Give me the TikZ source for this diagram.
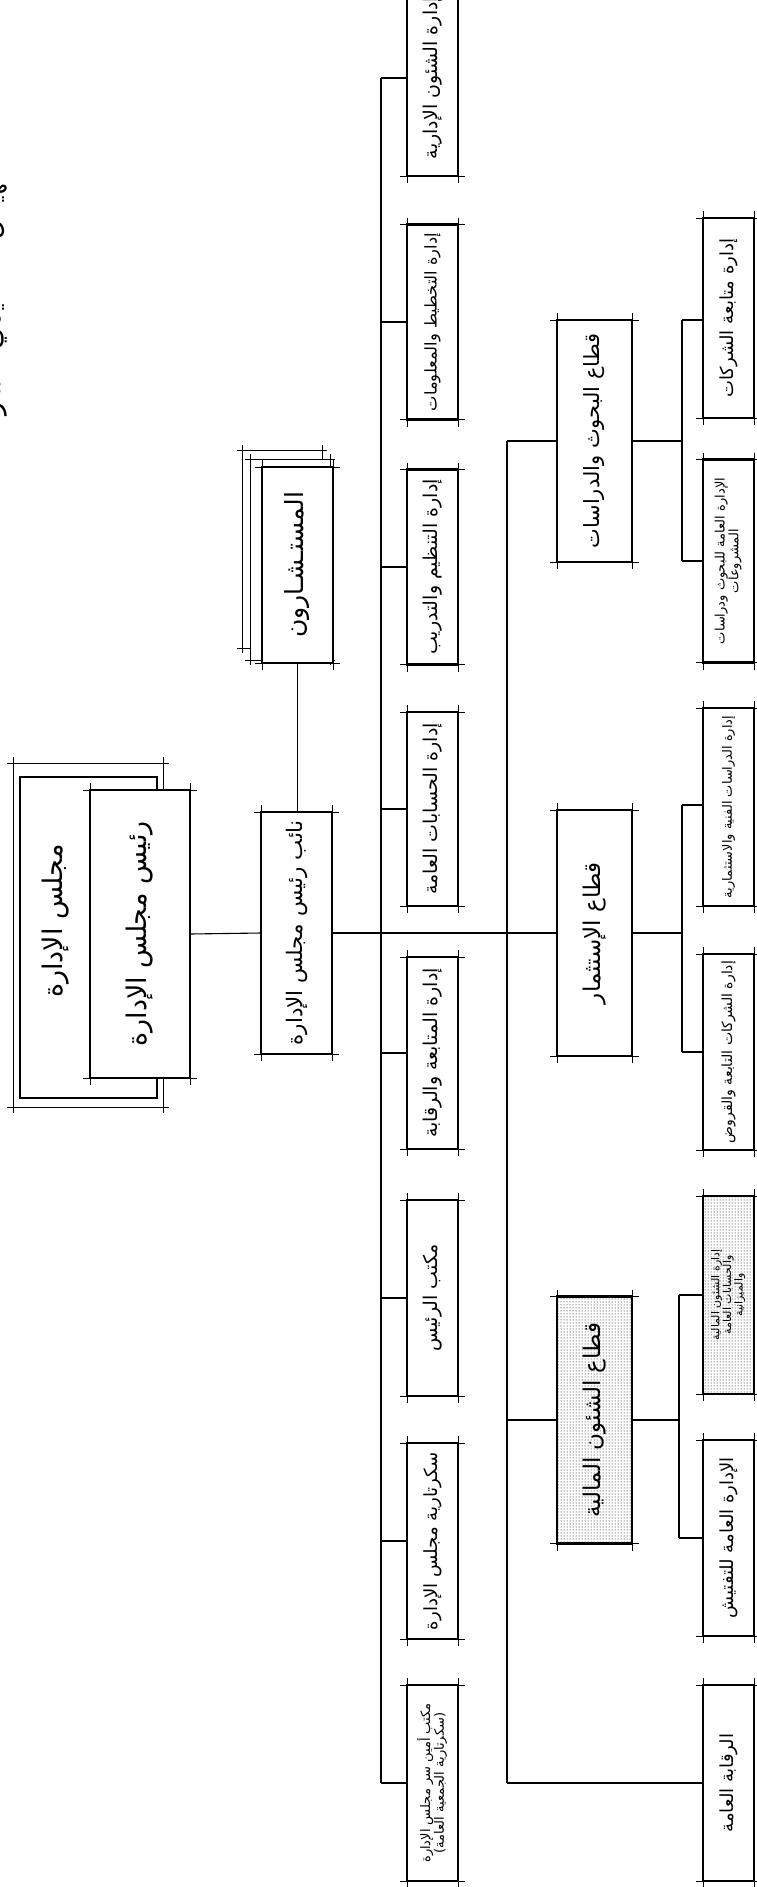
\documentclass[tikz,border=0pt]{standalone}
\usepackage{graphicx}
\usepackage{fontspec}
\usetikzlibrary{patterns}
\newfontfamily\ar[Script=Arabic]{DejaVu Sans}
\TeXXeTstate=1
\newsavebox\tbox
\newcommand\fitbox[1]{\ifdim\wd\tbox>#1\relax\resizebox{#1}{!}{\usebox\tbox}\else\usebox\tbox\fi}
\newcommand\lbl[3]{\sbox\tbox{\fontsize{#2}{#2}\selectfont\ar #3}\fitbox{#1}}
\newcommand\lbltwo[4]{\sbox\tbox{\fontsize{#2}{#2}\selectfont\ar\begin{tabular}{@{}c@{}}#3\\#4\end{tabular}}\fitbox{#1}}
\newcommand\lblthree[5]{\sbox\tbox{\fontsize{#2}{#2}\selectfont\ar\begin{tabular}{@{}c@{}}#3\\#4\\#5\end{tabular}}\fitbox{#1}}
% box: [style]{name}{cx}{cy}{w}{h}{content}
\newcommand\BX[7][]{\node[bx,#1,minimum width=#5pt,minimum height=#6pt] (#2) at (#3,#4) {\rotatebox{90}{#7}};}
\newcommand\tk[2][7pt]{\draw[tickl] ([xshift=-#1]#2.north west) -- ([xshift=#1]#2.north east)
  ([xshift=-#1]#2.south west) -- ([xshift=#1]#2.south east)
  ([yshift=#1]#2.north west) -- ([yshift=-#1]#2.south west)
  ([yshift=#1]#2.north east) -- ([yshift=-#1]#2.south east);}
\begin{document}
\begin{tikzpicture}[x=1pt,y=-1pt,
  bx/.style={draw,line width=2.6pt,fill=white,inner sep=0pt,outer sep=0pt},
  shd/.style={pattern=dots,pattern color=black},
  conn/.style={line width=1.1pt},
  tickl/.style={line width=0.8pt},
  thinfr/.style={draw,line width=1pt,fill=white,inner sep=0pt,outer sep=0pt}]
\useasboundingbox (0,0) rectangle (757,1887);
\fill[white] (0,0) rectangle (757,1887);
% title (cut by the page edge)
\begin{scope}
\clip (0,0) rectangle (757,1887);
\node[anchor=south,inner sep=0pt,rotate=90] (title) at (7,305) {\lbl{276pt}{34}{\beginR الهيكل التنظيمي للشركة\endR}};
\end{scope}
% bus coordinates
\coordinate (b1t) at (381,78);
\coordinate (b1b) at (381,1783);
\coordinate (b2t) at (507,441);
\coordinate (b2b) at (507,1783);
\coordinate (b3t) at (682,320);
\coordinate (b3b) at (682,561);
\coordinate (b4t) at (682,805);
\coordinate (b4b) at (682,1052);
\coordinate (b5t) at (679,1295);
\coordinate (b5b) at (679,1538);
% connectors
\draw[conn] (b1t) -- (b1b);
\draw[conn] (b2t) -- (b2b);
\draw[conn] (b3t) -- (b3b);
\draw[conn] (b4t) -- (b4b);
\draw[conn] (b5t) -- (b5b);
% board group
\node[thinfr,minimum width=150pt,minimum height=344pt] (boardfr) at (88,935) {};
\tk[6pt]{boardfr}
\node[bx,minimum width=137pt,minimum height=321pt] (board) at (88.5,937.5) {};
\node (boardlbl) at (56,921) {\rotatebox{90}{\lbl{185pt}{27}{\beginR مجلس الإدارة\endR}}};
\BX{chair}{140}{934}{100}{288}{\lbl{255pt}{27}{\beginR رئيس مجلس الإدارة\endR}}
\tk{chair}
% counselors
\node[thinfr,minimum width=80pt,minimum height=198pt] (cf2) at (282,549) {};
\tk[5pt]{cf2}
\node[thinfr,minimum width=80pt,minimum height=201pt] (cf1) at (290,559.5) {};
\tk[5pt]{cf1}
\BX{coun}{297.5}{565}{71}{196}{\lbl{165pt}{25}{\beginR المستـشـارون\endR}}
\tk{coun}
% vice chairman
\BX{vice}{296.5}{933}{71}{242}{\lbl{225pt}{22}{\beginR نائب رئيس مجلس الإدارة\endR}}
\tk{vice}
% departments
\BX{d1}{432.5}{78}{51}{196}{\lbl{178pt}{19}{\beginR إدارة الشئون الإدارية\endR}}
\BX{d2}{432.5}{322}{51}{195}{\lbl{178pt}{19}{\beginR إدارة التخطيط والمعلومات\endR}}
\BX{d3}{432.5}{567}{51}{195}{\lbl{178pt}{19}{\beginR إدارة التنظيم والتدريب\endR}}
\BX{d4}{432.5}{809}{51}{194}{\lbl{178pt}{19}{\beginR إدارة الحسابات العامة\endR}}
\BX{d5}{432.5}{1053}{51}{192}{\lbl{178pt}{19}{\beginR إدارة المتابعة والرقابة\endR}}
\BX{d6}{432.5}{1298}{51}{196}{\lbl{178pt}{19}{\beginR مكتب الرئيس\endR}}
\BX{d7}{432.5}{1541}{51}{196}{\lbl{178pt}{19}{\beginR سكرتارية مجلس الإدارة\endR}}
\BX{d8}{432.5}{1783}{51}{196}{\lbltwo{182pt}{13}{\beginR مكتب أمين سر مجلس الإدارة\endR}{\beginR (سكرتارية الجمعية العامة)\endR}}
\foreach \n in {d1,d2,d3,d4,d5,d6,d7,d8}{\tk{\n}}
% sectors
\BX{s1}{594.5}{441}{75}{242}{\lbl{215pt}{23}{\beginR قطاع البحوث والدراسات\endR}}
\BX{s2}{594.5}{933}{75}{246}{\lbl{215pt}{23}{\beginR قطاع الإستثمار\endR}}
\BX[shd]{s3}{594.5}{1420}{75}{247}{\lbl{215pt}{23}{\beginR قطاع الشئون المالية\endR}}
\foreach \n in {s1,s2,s3}{\tk{\n}}
% sub units
\BX{r1}{728.5}{318}{51}{200}{\lbl{182pt}{18}{\beginR إدارة متابعة الشركات\endR}}
\BX{r2}{728.5}{561}{51}{203}{\lbltwo{182pt}{13}{\beginR الإدارة العامة للبحوث ودراسات\endR}{\beginR المشروعات\endR}}
\BX{r3}{728.5}{807}{51}{198}{\lbl{182pt}{16}{\beginR إدارة الدراسات الفنية والاستثمارية\endR}}
\BX{r4}{728.5}{1052}{51}{196}{\lbl{182pt}{16}{\beginR إدارة الشركات التابعة والقروض\endR}}
\BX[shd]{r5}{728.5}{1295}{51}{198}{\lblthree{182pt}{11}{\beginR إدارة الشئون المالية\endR}{\beginR والحسابات العامة\endR}{\beginR والميزانية\endR}}
\BX{r6}{728.5}{1538}{51}{196}{\lbl{182pt}{18}{\beginR الإدارة العامة للتفتيش\endR}}
\BX{r7}{728.5}{1783}{51}{196}{\lbl{182pt}{18}{\beginR الرقابة العامة\endR}}
\foreach \n in {r1,r2,r3,r4,r5,r6,r7}{\tk{\n}}
% links
\draw[conn] (chair.east) -- (vice.west);
\draw[conn] (coun.south) -- (coun.south |- vice.north);
\draw[conn] (vice.east) -- (s2.west);
\foreach \n in {d1,d2,d3,d4,d5,d6,d7,d8}{\draw[conn] (b1t |- \n.west) -- (\n.west);}
\draw[conn] (b2t) -- (s1.west);
\draw[conn] (b2t |- s3.west) -- (s3.west);
\draw[conn] (b2b) -- (r7.west);
\draw[conn] (b3t) -- (r1.west |- b3t);
\draw[conn] (b3b) -- (r2.west |- b3b);
\draw[conn] (s1.east) -- (s1.east -| b3t);
\draw[conn] (b4t) -- (r3.west |- b4t);
\draw[conn] (b4b) -- (r4.west |- b4b);
\draw[conn] (s2.east) -- (s2.east -| b4t);
\draw[conn] (b5t) -- (r5.west |- b5t);
\draw[conn] (b5b) -- (r6.west |- b5b);
\draw[conn] (s3.east) -- (s3.east -| b5t);
\end{tikzpicture}
\end{document}
